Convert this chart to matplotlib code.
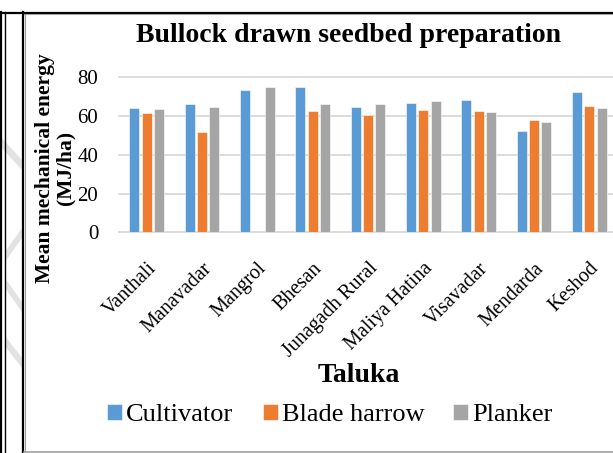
import numpy as np
import matplotlib
matplotlib.use("Agg")
import matplotlib.pyplot as plt
from matplotlib.patches import Polygon
from matplotlib.lines import Line2D

talukas = ["Vanthali", "Manavadar", "Mangrol", "Bhesan", "Junagadh Rural",
           "Maliya Hatina", "Visavadar", "Mendarda", "Keshod"]
cultivator = [64.5, 66.3, 73.8, 75.2, 64.9, 67.0, 68.5, 52.3, 72.5]
blade_harrow = [61.6, 52.0, 0.0, 62.5, 60.6, 63.2, 62.8, 58.0, 65.5]
planker = [63.8, 64.9, 75.2, 66.3, 66.3, 67.8, 62.1, 57.0, 64.5]
series_names = ["Cultivator", "Blade harrow", "Planker"]
colors = ["#5B9BD5", "#ED7D31", "#A5A5A5"]

plt.rcParams["font.family"] = ["Liberation Serif", "DejaVu Serif"]

W, H = 613, 453
fig = plt.figure(figsize=(W / 100, H / 100), dpi=100)


def px(x, y):
    # pixel (from top-left) -> figure fraction
    return x / W, 1 - y / H


# page borders
def hline(x0, x1, y, color, lw):
    fig.add_artist(Line2D([x0 / W, x1 / W], [1 - y / H] * 2, color=color, lw=lw,
                          transform=fig.transFigure))


def vline(x, y0, y1, color, lw):
    fig.add_artist(Line2D([x / W] * 2, [1 - y0 / H, 1 - y1 / H], color=color, lw=lw,
                          transform=fig.transFigure))


# faint watermark stripes on the left margin
stripes = [[(0, 136), (0, 146), (22, 170), (22, 160)],
           [(22, 228), (22, 238), (5, 262), (5, 252)],
           [(5, 278), (5, 288), (22, 312), (22, 302)],
           [(5, 336), (5, 346), (22, 368), (22, 358)]]
for s in stripes:
    fig.add_artist(Polygon([px(*p) for p in s], closed=True, facecolor="#E2E2E2",
                           edgecolor="none", transform=fig.transFigure))

hline(0, W, 12.5, "black", 1.6)
hline(24, W, 14.2, "#A0A0A0", 0.8)
vline(1.5, 12, H, "black", 1.6)
vline(5.5, 12, H, "black", 1.0)
vline(23, 12, H, "black", 1.6)
vline(24.6, 14, H, "#A0A0A0", 0.8)
hline(24, W, 452, "#A0A0A0", 1.2)

left, right, top, bottom = 119, 617, 77.5, 232.5
ax = fig.add_axes([left / W, 1 - bottom / H, (right - left) / W, (bottom - top) / H])

x = np.arange(len(talukas))
bw = 0.18
step = 0.222
for i, (vals, name, c) in enumerate(zip([cultivator, blade_harrow, planker], series_names, colors)):
    ax.bar(x + (i - 1) * step, vals, width=bw, color=c, edgecolor="white",
           linewidth=0.4, label=name, zorder=3)

ax.set_xlim(-0.5, len(talukas) - 0.5)
ax.set_ylim(0, 80)
ax.set_yticks([0, 20, 40, 60, 80])
ax.yaxis.grid(True, color="#D9D9D9", lw=1.3, zorder=0)
for gl in ax.get_ygridlines():
    gl.set_clip_on(False)
for sp in ax.spines.values():
    sp.set_visible(False)
ax.tick_params(axis="y", length=0, pad=15, labelsize=15)
ax.tick_params(axis="x", length=0, pad=19)
ax.set_xticks(x)
ax.set_xticklabels(talukas, rotation=45, ha="right", va="top",
                   rotation_mode="anchor", fontsize=14.5)

fig.text(*px(348, 42), "Bullock drawn seedbed preparation", ha="center",
         va="baseline", fontsize=20, fontweight="bold")
fig.text(*px(55, 168), "Mean mechanical energy\n(MJ/ha)", rotation=90,
         ha="center", va="center", multialignment="center", linespacing=1.0,
         fontsize=15.5, fontweight="bold")
fig.text(*px(359, 382), "Taluka", ha="center", va="baseline",
         fontsize=20, fontweight="bold")

fig.legend(loc="center", bbox_to_anchor=px(330, 415), ncol=3, frameon=False,
           fontsize=19, handlelength=0.57, handleheight=0.57,
           handletextpad=0.15, columnspacing=1.1, borderpad=0)

fig.savefig("out.png", dpi=100)
